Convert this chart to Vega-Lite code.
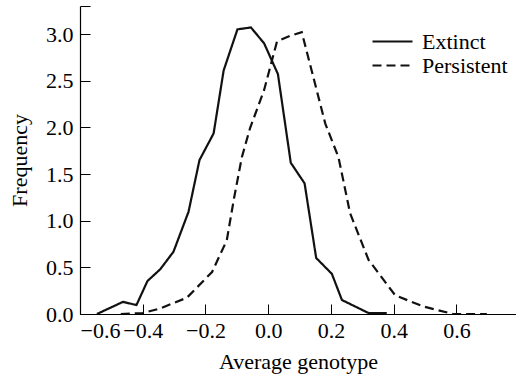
{
  "$schema": "https://vega.github.io/schema/vega-lite/v6.json",
  "width": 436,
  "height": 308,
  "padding": {"left": 80, "top": 6, "right": 0, "bottom": 64},
  "autosize": {"type": "none"},
  "background": "white",
  "config": {
    "view": {"stroke": null},
    "font": "Liberation Serif",
    "axis": {
      "domainColor": "#000",
      "domainWidth": 1.2,
      "tickColor": "#000",
      "tickWidth": 1,
      "grid": false,
      "labelFont": "Liberation Serif",
      "labelFontSize": 22,
      "labelColor": "#000",
      "titleFont": "Liberation Serif",
      "titleFontSize": 22,
      "titleFontWeight": "normal",
      "titleColor": "#000"
    }
  },
  "data": {
    "values": [
      {"series": "Extinct", "g": -0.546, "f": 0.0},
      {"series": "Extinct", "g": -0.463, "f": 0.13},
      {"series": "Extinct", "g": -0.42, "f": 0.096},
      {"series": "Extinct", "g": -0.385, "f": 0.353},
      {"series": "Extinct", "g": -0.344, "f": 0.48},
      {"series": "Extinct", "g": -0.302, "f": 0.667},
      {"series": "Extinct", "g": -0.254, "f": 1.095},
      {"series": "Extinct", "g": -0.219, "f": 1.65},
      {"series": "Extinct", "g": -0.174, "f": 1.935},
      {"series": "Extinct", "g": -0.142, "f": 2.61},
      {"series": "Extinct", "g": -0.098, "f": 3.05},
      {"series": "Extinct", "g": -0.055, "f": 3.07},
      {"series": "Extinct", "g": -0.013, "f": 2.9},
      {"series": "Extinct", "g": 0.031, "f": 2.57},
      {"series": "Extinct", "g": 0.072, "f": 1.62},
      {"series": "Extinct", "g": 0.116, "f": 1.4},
      {"series": "Extinct", "g": 0.153, "f": 0.6},
      {"series": "Extinct", "g": 0.203, "f": 0.43},
      {"series": "Extinct", "g": 0.235, "f": 0.15},
      {"series": "Extinct", "g": 0.32, "f": 0.01},
      {"series": "Extinct", "g": 0.378, "f": 0.01},
      {"series": "Persistent", "g": -0.47, "f": 0.0},
      {"series": "Persistent", "g": -0.4, "f": 0.01},
      {"series": "Persistent", "g": -0.344, "f": 0.06},
      {"series": "Persistent", "g": -0.259, "f": 0.175},
      {"series": "Persistent", "g": -0.179, "f": 0.45},
      {"series": "Persistent", "g": -0.132, "f": 0.79},
      {"series": "Persistent", "g": -0.11, "f": 1.22},
      {"series": "Persistent", "g": -0.084, "f": 1.68},
      {"series": "Persistent", "g": -0.058, "f": 1.99},
      {"series": "Persistent", "g": -0.013, "f": 2.4},
      {"series": "Persistent", "g": 0.028, "f": 2.92},
      {"series": "Persistent", "g": 0.07, "f": 2.98},
      {"series": "Persistent", "g": 0.107, "f": 3.02},
      {"series": "Persistent", "g": 0.182, "f": 2.04},
      {"series": "Persistent", "g": 0.224, "f": 1.68},
      {"series": "Persistent", "g": 0.261, "f": 1.08},
      {"series": "Persistent", "g": 0.32, "f": 0.58},
      {"series": "Persistent", "g": 0.405, "f": 0.2},
      {"series": "Persistent", "g": 0.495, "f": 0.08},
      {"series": "Persistent", "g": 0.59, "f": 0.0},
      {"series": "Persistent", "g": 0.697, "f": 0.0}
    ]
  },
  "mark": {"type": "line", "color": "#111", "strokeWidth": 2.2, "clip": true},
  "encoding": {
    "x": {
      "field": "g",
      "type": "quantitative",
      "scale": {"domain": [-0.6, 0.79], "nice": false, "zero": false},
      "axis": {
        "title": "Average genotype",
        "values": [-0.6, -0.4, -0.2, 0, 0.2, 0.4, 0.6],
        "labelExpr": "format(datum.value, '.1f')",
        "tickSize": -10,
        "labelPadding": 16,
        "titlePadding": 10
      }
    },
    "y": {
      "field": "f",
      "type": "quantitative",
      "scale": {"domain": [0, 3.3], "nice": false},
      "axis": {
        "title": "Frequency",
        "values": [0, 0.5, 1, 1.5, 2, 2.5, 3, 3.3],
        "labelExpr": "datum.value > 3.1 ? '' : format(datum.value, '.1f')",
        "tickSize": -10,
        "labelPadding": 17,
        "titlePadding": 14
      }
    },
    "strokeDash": {
      "field": "series",
      "type": "nominal",
      "scale": {"domain": ["Extinct", "Persistent"], "range": [[1, 0], [9, 5]]},
      "legend": {
        "title": null,
        "orient": "none",
        "legendX": 291,
        "legendY": 24,
        "symbolType": "M-1,0H3",
        "symbolSize": 400,
        "symbolStrokeWidth": 2.2,
        "symbolStrokeColor": "#111",
        "labelFont": "Liberation Serif",
        "labelFontSize": 22,
        "labelColor": "#000",
        "labelOffset": 28,
        "rowPadding": 1
      }
    }
  }
}
